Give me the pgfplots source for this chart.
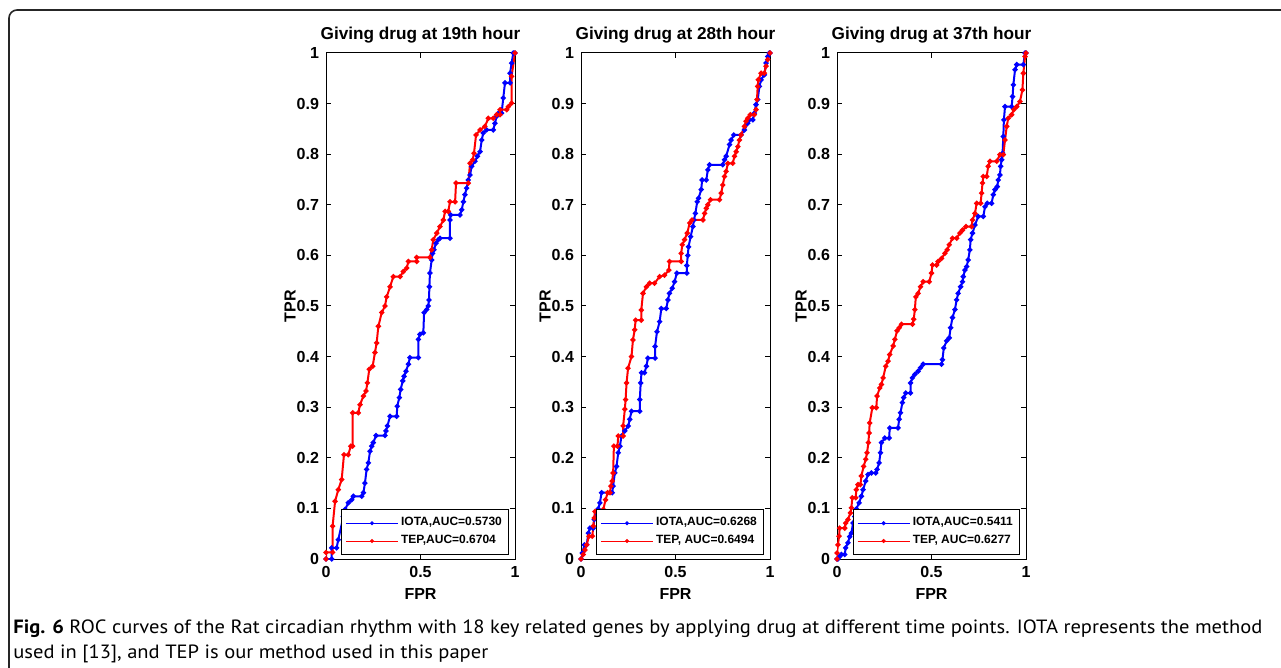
\documentclass[border=0pt]{standalone}
\usepackage{fontspec}
\setmainfont{Liberation Sans}
\newfontfamily\capfont{PT Sans}
\usepackage{graphicx}
\usepackage{pgfplots}
\pgfplotsset{compat=1.18}

\tikzset{ttl/.style={font=\bfseries\fontsize{8.6}{10}\selectfont, anchor=center}}
\pgfplotsset{
  rocax/.style={
    scale only axis, width=94.5pt, height=253pt,
    xmin=0, xmax=1, ymin=0, ymax=1,
    xtick={0,0.5,1}, ytick={0,0.1,0.2,0.3,0.4,0.5,0.6,0.7,0.8,0.9,1},
    tick align=inside, major tick length=2.5pt,
    axis line style={line width=0.5pt},
    every tick/.style={black, line width=0.5pt},
    ticklabel style={font=\bfseries\fontsize{8}{9}\selectfont},
    /pgf/number format/assume math mode=true,
    xlabel=FPR, ylabel=TPR,
    label style={font=\bfseries\fontsize{8}{9}\selectfont},
    xlabel style={at={(axis description cs:0.5,-0.069)}, anchor=center},
    ylabel style={at={(axis description cs:-0.19,0.5)}, anchor=center},
    legend style={at={(axis description cs:1,0)}, anchor=south east,
      xshift=-3pt, yshift=2pt, draw=black, line width=0.5pt,
      font=\bfseries\fontsize{6}{7}\selectfont,
      inner xsep=2pt, inner ysep=2.6pt, row sep=0.6pt,
      nodes={inner sep=1.3pt}},
    legend cell align=left,
    legend image code/.code={\draw[##1, line width=0.5pt, mark repeat=2, mark phase=2]
      plot coordinates {(0pt,0pt) (13pt,0pt) (26pt,0pt)};},
  },
  iota/.style={blue, line width=1pt, mark=*, mark size=0.75pt},
  tep/.style={red, line width=1pt, mark=*, mark size=0.75pt},
}

\begin{document}%
\newsavebox\capA%
\sbox\capA{\capfont\fontsize{9.6}{11}\selectfont\textbf{Fig. 6} ROC curves of the Rat circadian rhythm with 18 key related genes by applying drug at different time points. IOTA represents the method}%
\pgfmathsetmacro\capratio{624.5/\wd\capA}%
\begin{tikzpicture}
\path[use as bounding box] (0,0) rectangle (640.5pt,-334pt);
\draw[line width=0.8pt, rounded corners=4pt, black!85] (4.5pt,-345pt) -- (4.5pt,-5pt) -- (650pt,-5pt);

% 19th hour
\begin{axis}[rocax, name=ax1, at={(163pt,-279.5pt)}, anchor=south west]
\addplot[iota] coordinates {
(0,0) (.030,0) (.030,.022) (.056,.022) (.065,.038) (.092,.084) (.101,.098)
(.118,.111) (.136,.117) (.145,.124) (.189,.124) (.198,.131) (.206,.150)
(.215,.177) (.224,.190) (.233,.213) (.242,.223) (.250,.230) (.265,.244)
(.312,.244) (.317,.253) (.325,.263) (.339,.282) (.374,.282) (.377,.302)
(.388,.319) (.395,.335) (.406,.352) (.413,.361) (.423,.371) (.436,.385)
(.444,.398) (.489,.398) (.489,.434) (.497,.444) (.515,.447) (.519,.487)
(.533,.493) (.541,.500) (.545,.512) (.547,.538) (.550,.565) (.559,.591)
(.564,.604) (.571,.611) (.582,.624) (.594,.631) (.603,.634) (.656,.634)
(.656,.670) (.660,.680) (.709,.680) (.718,.690) (.727,.706) (.735,.720)
(.744,.733) (.753,.749) (.762,.759) (.771,.776) (.788,.786) (.801,.796)
(.815,.805) (.824,.828) (.832,.842) (.850,.848) (.885,.848) (.894,.861)
(.903,.875) (.912,.881) (.929,.881) (.938,.911) (.947,.941) (.974,.941)
(.974,.960) (.982,.980) (.991,1) (1,1)};
\addlegendentry{IOTA,AUC=0.5730}
\addplot[tep] coordinates {
(0,0) (0,.013) (.035,.013) (.035,.065) (.048,.114) (.065,.137) (.083,.157)
(.095,.206) (.118,.206) (.131,.223) (.141,.223) (.141,.289) (.171,.289)
(.180,.305) (.198,.322) (.212,.332) (.219,.348) (.229,.375) (.247,.381)
(.259,.408) (.268,.427) (.277,.460) (.295,.487) (.312,.500) (.321,.518)
(.339,.538) (.356,.558) (.392,.558) (.409,.568) (.427,.575) (.436,.588)
(.480,.588) (.480,.596) (.550,.596) (.559,.611) (.568,.631) (.586,.644)
(.603,.657) (.621,.670) (.630,.687) (.647,.687) (.656,.706) (.683,.706)
(.688,.743) (.753,.743) (.762,.782) (.776,.789) (.783,.802) (.794,.838)
(.815,.848) (.841,.855) (.859,.871) (.885,.871) (.903,.878) (.921,.878)
(.921,.888) (.956,.888) (.965,.894) (.982,.901) (.982,.954) (1,1)};
\addlegendentry{TEP,AUC=0.6704}
\end{axis}

% 28th hour
\begin{axis}[rocax, name=ax2, at={(290.5pt,-279.5pt)}, anchor=south west]
\addplot[iota] coordinates {
(0,0) (.007,.012) (.018,.028) (.030,.028) (.039,.051) (.047,.061) (.065,.061)
(.070,.078) (.083,.091) (.091,.099) (.100,.111) (.109,.131) (.165,.131)
(.170,.144) (.179,.170) (.188,.183) (.197,.210) (.206,.223) (.214,.243)
(.232,.253) (.250,.263) (.258,.276) (.267,.292) (.311,.292) (.311,.315)
(.316,.348) (.320,.368) (.336,.368) (.346,.381) (.354,.397) (.392,.397)
(.392,.420) (.402,.449) (.416,.469) (.425,.495) (.451,.495) (.460,.512)
(.468,.525) (.483,.535) (.495,.548) (.507,.565) (.560,.565) (.560,.580)
(.565,.600) (.569,.617) (.580,.637) (.592,.657) (.598,.670)
(.605,.683) (.615,.706) (.622,.713) (.636,.730) (.641,.749) (.663,.749)
(.671,.769) (.680,.779) (.750,.779) (.759,.789) (.768,.796) (.786,.819)
(.794,.828) (.808,.838) (.847,.838) (.865,.848) (.882,.861) (.891,.868)
(.909,.868) (.917,.881) (.926,.898) (.935,.908) (.944,.934) (.953,.947)
(.970,.957) (.979,.980) (.988,.993) (.996,1) (1,1)};
\addlegendentry{IOTA,AUC=0.6268}
\addplot[tep] coordinates {
(0,0) (.012,.009) (.021,.018) (.030,.028) (.042,.045) (.060,.045) (.065,.065)
(.070,.081) (.074,.094) (.118,.098) (.130,.117) (.141,.131) (.153,.131)
(.158,.144) (.165,.154) (.170,.170) (.174,.223) (.193,.223) (.197,.243)
(.223,.243) (.223,.263) (.232,.296) (.236,.315) (.241,.348) (.249,.377)
(.267,.400) (.275,.433) (.284,.453) (.289,.472) (.319,.472)
(.319,.492) (.328,.525) (.346,.538) (.363,.545) (.389,.545)
(.416,.558) (.442,.561) (.465,.571) (.468,.588) (.530,.588)
(.530,.604) (.536,.621) (.548,.631) (.562,.644) (.575,.664) (.587,.670)
(.645,.670) (.654,.683) (.663,.693) (.671,.700) (.685,.710) (.733,.710)
(.742,.723) (.750,.739) (.759,.756) (.768,.766) (.777,.782) (.803,.782)
(.812,.796) (.821,.805) (.830,.815) (.838,.828) (.847,.838) (.865,.855)
(.873,.865) (.882,.871) (.896,.878) (.917,.878) (.926,.888) (.931,.908)
(.935,.934) (.938,.947) (.953,.960) (.970,.960) (.979,.974) (.988,.987) (1,1)};
\addlegendentry{TEP, AUC=0.6494}
\end{axis}

% 37th hour
\begin{axis}[rocax, name=ax3, at={(418.5pt,-279.5pt)}, anchor=south west]
\addplot[iota] coordinates {
(0,0) (.005,0) (.014,.005) (.023,.009) (.041,.009) (.046,.022) (.058,.032)
(.067,.044) (.076,.051) (.085,.071) (.094,.084) (.102,.099) (.117,.111)
(.129,.124) (.138,.137) (.152,.154) (.164,.167) (.182,.170) (.205,.170)
(.212,.177) (.223,.190) (.230,.210) (.235,.230) (.253,.239) (.276,.239)
(.279,.259) (.323,.259) (.329,.276) (.336,.289) (.346,.309) (.353,.319)
(.364,.328) (.389,.328) (.389,.348) (.399,.358) (.412,.365) (.429,.371)
(.442,.378) (.456,.385) (.553,.385) (.558,.394) (.565,.417) (.580,.431)
(.594,.437) (.601,.457) (.611,.477) (.624,.493) (.633,.512) (.641,.525)
(.654,.538) (.664,.548) (.668,.558) (.677,.571) (.686,.578) (.694,.591)
(.703,.611) (.707,.631) (.717,.644) (.730,.660) (.747,.677) (.774,.677)
(.783,.696) (.795,.703) (.818,.703) (.827,.720) (.836,.730) (.848,.736)
(.853,.749) (.862,.759) (.866,.776) (.871,.789) (.876,.802) (.880,.835)
(.883,.868) (.889,.894) (.924,.894) (.929,.914) (.933,.937) (.942,.967)
(.951,.977) (.986,.977) (.995,1) (1,1)};
\addlegendentry{IOTA,AUC=0.5411}
\addplot[tep] coordinates {
(0,0) (0,.012) (.005,.028) (.011,.045) (.014,.061) (.041,.061) (.046,.071)
(.058,.078) (.071,.091) (.076,.101) (.081,.121) (.099,.121) (.102,.137)
(.111,.147) (.124,.147) (.129,.164) (.141,.183) (.152,.197) (.159,.210)
(.166,.230) (.170,.249) (.173,.269) (.187,.299) (.208,.299) (.212,.322)
(.226,.338) (.235,.345) (.244,.358) (.258,.381) (.270,.391) (.279,.404)
(.297,.421) (.306,.434) (.318,.451) (.329,.457) (.341,.464) (.399,.464)
(.406,.474) (.412,.493) (.417,.518) (.429,.525) (.442,.538) (.456,.548)
(.488,.548) (.500,.565) (.505,.581) (.527,.581) (.535,.588) (.553,.594)
(.571,.604) (.583,.611) (.594,.621) (.611,.634) (.633,.634) (.650,.644)
(.664,.650) (.682,.657) (.712,.657) (.717,.670) (.730,.683) (.739,.703)
(.760,.703) (.765,.723) (.770,.743) (.774,.756) (.792,.756) (.800,.776)
(.809,.786) (.845,.786) (.862,.799) (.880,.799) (.889,.828) (.898,.855)
(.906,.871) (.924,.878) (.936,.888) (.951,.894) (.968,.904) (.981,.927)
(.986,.960) (.995,.993) (1,1)};
\addlegendentry{TEP, AUC=0.6277}
\end{axis}

\node[ttl] at ([yshift=9pt]ax1.north) {Giving drug at 19th hour};
\node[ttl] at ([yshift=9pt]ax2.north) {Giving drug at 28th hour};
\node[ttl] at ([yshift=9pt]ax3.north) {Giving drug at 37th hour};

\node[anchor=base west, inner sep=0pt] at (6.5pt,-316.5pt) {\scalebox{\capratio}[1]{\usebox\capA}};
\node[anchor=base west, inner sep=0pt] at (6.5pt,-329pt) {\scalebox{\capratio}[1]{\capfont\fontsize{9.6}{11}\selectfont used in [13], and TEP is our method used in this paper}};
\end{tikzpicture}%
\end{document}
